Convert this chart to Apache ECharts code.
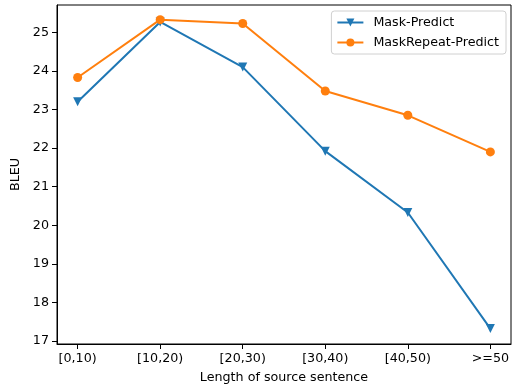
<!DOCTYPE html>
<html>
<head>
<meta charset="utf-8">
<script src="https://cdn.jsdelivr.net/npm/echarts@6/dist/echarts.min.js"></script>
<style>
html,body{margin:0;padding:0;background:#fff;}
#chart{width:513px;height:385px;}
</style>
</head>
<body>
<div id="chart"></div>
<script>
const categories = ['[0,10)', '[10,20)', '[20,30)', '[30,40)', '[40,50)', '>=50'];
const maskPredict = [23.20, 25.27, 24.10, 21.92, 20.33, 17.32];
const maskRepeatPredict = [23.83, 25.33, 25.23, 23.48, 22.85, 21.90];
const yTicks = [17, 18, 19, 20, 21, 22, 23, 24, 25];

const font = 'DejaVu Sans';
const fs = 12.7;
const toPairs = arr => arr.map((v, i) => [i, v]);

const chart = echarts.init(document.getElementById('chart'), null, {renderer: 'canvas'});
chart.setOption({
  animation: false,
  backgroundColor: '#fff',
  textStyle: {fontFamily: font},
  grid: {
    left: 57, right: 2, top: 5, bottom: 41,
    outerBoundsMode: 'none',
    containLabel: false,
    show: true, borderColor: '#000', borderWidth: 1, backgroundColor: 'transparent'
  },
  legend: {
    orient: 'vertical',
    right: 7, top: 11,
    padding: [5, 7, 5, 5],
    itemGap: 7,
    itemWidth: 26, itemHeight: 10,
    borderColor: '#d0d0d0', borderWidth: 1, borderRadius: 3,
    backgroundColor: 'rgba(255,255,255,0.8)',
    textStyle: {fontFamily: font, fontSize: fs, color: '#000', padding: [0, 0, 0, 5]},
    data: ['Mask-Predict', 'MaskRepeat-Predict']
  },
  xAxis: {
    type: 'value',
    min: -0.25, max: 5.25,
    name: 'Length of source sentence',
    nameLocation: 'middle',
    nameGap: 27,
    nameTextStyle: {fontFamily: font, fontSize: fs, color: '#000'},
    splitLine: {show: false},
    axisLine: {show: true, onZero: false, lineStyle: {color: '#000', width: 1}},
    axisTick: {show: true, length: 5, lineStyle: {color: '#000'}, customValues: categories.map((c, i) => i)},
    axisLabel: {
      fontFamily: font, fontSize: fs, color: '#000', margin: 8,
      customValues: categories.map((c, i) => i),
      formatter: v => categories[Math.round(v)] || ''
    }
  },
  yAxis: {
    type: 'value',
    min: 16.92, max: 25.71,
    name: 'BLEU',
    nameLocation: 'middle',
    nameGap: 30,
    nameTextStyle: {fontFamily: font, fontSize: fs, color: '#000'},
    splitLine: {show: false},
    axisLine: {show: true, onZero: false, lineStyle: {color: '#000', width: 1}},
    axisTick: {show: true, length: 5, lineStyle: {color: '#000'}, customValues: yTicks},
    axisLabel: {
      fontFamily: font, fontSize: fs, color: '#000', margin: 8,
      customValues: yTicks,
      formatter: v => String(Math.round(v))
    }
  },
  series: [
    {
      name: 'Mask-Predict',
      type: 'line',
      data: toPairs(maskPredict),
      symbol: 'triangle',
      symbolRotate: 180,
      symbolSize: 9,
      showAllSymbol: true,
      color: '#1f77b4',
      lineStyle: {width: 2, color: '#1f77b4'},
      itemStyle: {color: '#1f77b4'}
    },
    {
      name: 'MaskRepeat-Predict',
      type: 'line',
      data: toPairs(maskRepeatPredict),
      symbol: 'circle',
      symbolSize: 9,
      showAllSymbol: true,
      color: '#ff7f0e',
      lineStyle: {width: 2, color: '#ff7f0e'},
      itemStyle: {color: '#ff7f0e'}
    }
  ]
});
</script>
</body>
</html>
